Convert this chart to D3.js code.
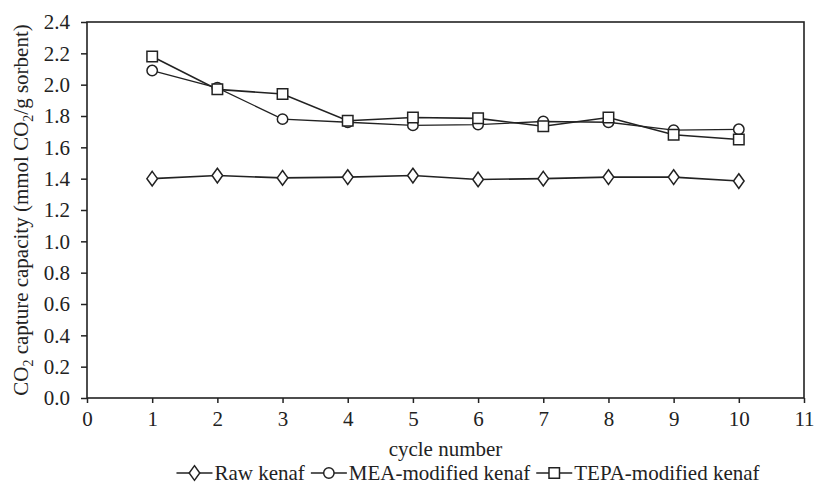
<!DOCTYPE html>
<html>
<head>
<meta charset="utf-8">
<script src="https://cdn.jsdelivr.net/npm/d3@7"></script>
<style>
  body { margin: 0; background: #fff; }
  text { font-family: "Liberation Serif", "Times New Roman", serif; fill: #222; }
</style>
</head>
<body>
<div id="chart"></div>
<script>
// data
const cycles = [1, 2, 3, 4, 5, 6, 7, 8, 9, 10];
const rawKenaf = [1.40, 1.42, 1.405, 1.41, 1.42, 1.395, 1.40, 1.41, 1.41, 1.385];
const meaKenaf = [2.09, 1.98, 1.78, 1.76, 1.74, 1.745, 1.765, 1.76, 1.71, 1.715];
const tepaKenaf = [2.18, 1.97, 1.94, 1.77, 1.79, 1.785, 1.735, 1.79, 1.68, 1.65];
const xTicks = [0, 1, 2, 3, 4, 5, 6, 7, 8, 9, 10, 11];
const yTicks = [0, 0.2, 0.4, 0.6, 0.8, 1.0, 1.2, 1.4, 1.6, 1.8, 2.0, 2.2, 2.4];
const seriesNames = ["Raw kenaf", "MEA-modified kenaf", "TEPA-modified kenaf"];

const width = 814, height = 487;
const margin = { left: 87, right: 10, top: 22, bottom: 89 };
const fontSize = 21;

const svg = d3.select("#chart").append("svg")
  .attr("width", width)
  .attr("height", height);

const x = d3.scaleLinear().domain([0, 11]).range([margin.left, width - margin.right]);
const y = d3.scaleLinear().domain([0, 2.4]).range([height - margin.bottom, margin.top]);

// frame
svg.append("rect")
  .attr("x", x(0)).attr("y", y(2.4))
  .attr("width", x(11) - x(0)).attr("height", y(0) - y(2.4))
  .attr("fill", "none").attr("stroke", "#222").attr("stroke-width", 1.6);

/* axes */
const xAxis = d3.axisBottom(x).tickValues(xTicks).tickSize(5).tickPadding(8).tickFormat(d3.format("d"));
const yAxis = d3.axisLeft(y).tickValues(yTicks).tickSize(6).tickPadding(11).tickFormat(d3.format(".1f"));

svg.append("g")
  .attr("transform", `translate(0, ${y(0)})`)
  .call(xAxis)
  .call(g => g.select(".domain").remove())
  .call(g => g.selectAll("line").attr("stroke", "#222").attr("stroke-width", 1.5))
  .call(g => g.selectAll("text").attr("font-size", fontSize).attr("fill", "#222")
    .style("font-family", "'Liberation Serif', serif"));

svg.append("g")
  .attr("transform", `translate(${x(0)}, 0)`)
  .call(yAxis)
  .call(g => g.select(".domain").remove())
  .call(g => g.selectAll("line").attr("stroke", "#222").attr("stroke-width", 1.5))
  .call(g => g.selectAll("text").attr("font-size", fontSize).attr("fill", "#222")
    .style("font-family", "'Liberation Serif', serif"));

// axis titles
svg.append("text")
  .attr("x", (x(0) + x(11)) / 2)
  .attr("y", 456)
  .attr("text-anchor", "middle")
  .attr("font-size", fontSize)
  .text("cycle number");

const yTitle = svg.append("text")
  .attr("transform", `translate(28, ${(y(0) + y(2.4)) / 2}) rotate(-90)`)
  .attr("text-anchor", "middle")
  .attr("font-size", fontSize);
yTitle.append("tspan").text("CO");
yTitle.append("tspan").attr("font-size", 14).attr("dy", 5).text("2");
yTitle.append("tspan").attr("dy", -5).text(" capture capacity (mmol CO");
yTitle.append("tspan").attr("font-size", 14).attr("dy", 5).text("2");
yTitle.append("tspan").attr("dy", -5).text("/g sorbent)");

/* series */
const symbols = [d3.symbolDiamond, d3.symbolCircle, d3.symbolSquare];
const symbolSizes = [62, 85, 110];
const allSeries = [rawKenaf, meaKenaf, tepaKenaf];

const line = d3.line()
  .x((d, i) => x(cycles[i]))
  .y(d => y(d));

allSeries.forEach((vals, s) => {
  svg.append("path")
    .datum(vals)
    .attr("d", line)
    .attr("fill", "none")
    .attr("stroke", "#222")
    .attr("stroke-width", s === 1 ? 1.3 : 1.6);
});

allSeries.forEach((vals, s) => {
  const sym = d3.symbol().type(symbols[s]).size(symbolSizes[s]);
  svg.append("g").selectAll("path")
    .data(vals).enter()
    .append("path")
    .attr("transform", (d, i) =>
      `translate(${x(cycles[i])}, ${y(d)})` + (s === 0 ? " scale(1.25, 1)" : ""))
    .attr("d", sym)
    .attr("fill", "#fff")
    .attr("stroke", "#222")
    .attr("stroke-width", 1.5)
    .attr("vector-effect", "non-scaling-stroke");
});

/* legend - laid out from measured text widths */
const legendY = 473;
const legend = svg.append("g");
let cursor = 0;
seriesNames.forEach((name, s) => {
  const g = legend.append("g").attr("transform", `translate(${cursor}, 0)`);
  g.append("line")
    .attr("x1", 0).attr("x2", 36)
    .attr("y1", legendY).attr("y2", legendY)
    .attr("stroke", "#222").attr("stroke-width", 1.6);
  g.append("path")
    .attr("transform", `translate(18, ${legendY})` + (s === 0 ? " scale(1.25, 1)" : ""))
    .attr("d", d3.symbol().type(symbols[s]).size(symbolSizes[s]))
    .attr("fill", "#fff").attr("stroke", "#222").attr("stroke-width", 1.5)
    .attr("vector-effect", "non-scaling-stroke");
  const t = g.append("text")
    .attr("x", 38)
    .attr("y", legendY + 7)
    .attr("font-size", fontSize)
    .text(name);
  cursor += 38 + t.node().getComputedTextLength() + 6;
});
const legendW = cursor - 6;
legend.attr("transform", `translate(${468 - legendW / 2}, 0)`);
</script>
</body>
</html>
